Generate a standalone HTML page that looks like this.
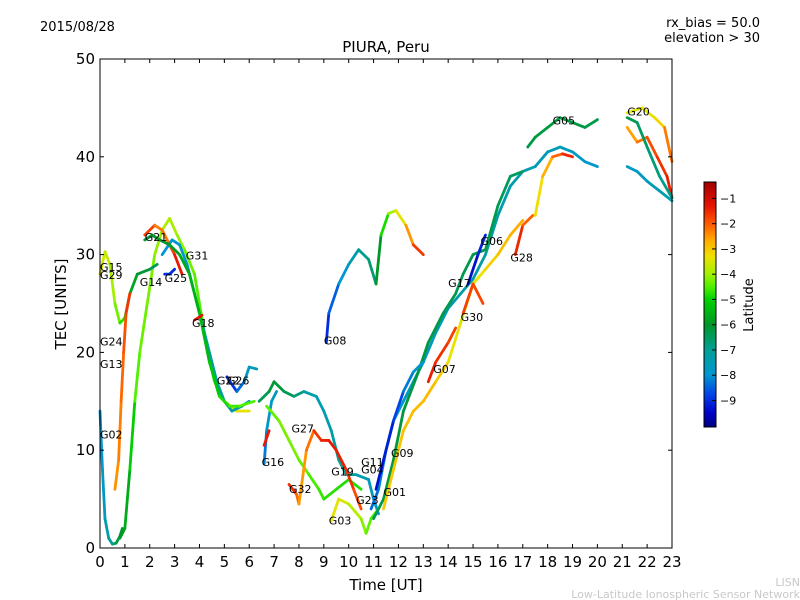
<!DOCTYPE html>
<html><head><meta charset="utf-8"><style>
body{margin:0;background:#fff;}
svg{display:block;font-family:"DejaVu Sans","Liberation Sans",sans-serif;}
</style></head><body>
<svg id="chart" width="800" height="600" viewBox="0 0 800 600">
<rect x="0" y="0" width="800" height="600" fill="#fff"/>
<text x="40" y="31" font-size="13">2015/08/28</text>
<text x="760" y="27" font-size="13" text-anchor="end">rx_bias = 50.0</text>
<text x="760" y="42" font-size="13" text-anchor="end">elevation &gt; 30</text>
<text x="386" y="52" font-size="15" text-anchor="middle">PIURA, Peru</text>
<text x="386" y="590" font-size="15" text-anchor="middle">Time [UT]</text>
<text x="66" y="304" font-size="15" text-anchor="middle" transform="rotate(-90 66 304)">TEC [UNITS]</text>
<text x="800" y="586" font-size="11" fill="#c8c8c8" text-anchor="end">LISN</text>
<text x="800" y="598" font-size="11" fill="#c8c8c8" text-anchor="end">Low-Latitude Ionospheric Sensor Network</text>
<g id="plot"></g>
<g id="axes"></g>
<g id="cbar"></g>
</svg>
<script>
const xTicks=[0,1,2,3,4,5,6,7,8,9,10,11,12,13,14,15,16,17,18,19,20,21,22,23];
const yTicks=[0,10,20,30,40,50];
const cbTicks=[-1,-2,-3,-4,-5,-6,-7,-8,-9];
const trackTimes=[
[0.8,1,1.2,1.4,1.6,1.9,2.2,2.5,2.8,3.1,3.4,3.8,4.2,4.6,5,5.5,6],
[0,0.1,0.2,0.35,0.5,0.65,0.8,0.9],
[0,0.2,0.4,0.6,0.8,1,1.2,1.5,2,2.3],
[0.6,0.75,0.85,0.95,1.05,1.2],
[1.8,2.2,2.5,2.8,3,3.3],
[2.5,2.9,3.2,3.5,3.9,4.3,4.7,5,5.3,5.7,6],
[1.8,2.1,2.4,2.8,3.2,3.6,4,4.4,4.8,5.2,5.6,6.2],
[2.6,2.8,3],
[3.8,4.1],
[5.1,5.5,5.8,6,6.3],
[6.4,6.8,7,7.4,7.8,8.2,8.7,9,9.3,9.6,9.9,10.3,10.8,11,11.2],
[6.6,6.7,6.9,7.1],
[6.6,6.8],
[6.7,7.2,7.6,8,8.4,8.8,9,9.5,10,10.5],
[7.6,7.9,8,8.3,8.6,8.9,9.2,9.5,9.9,10.2,10.5],
[9.1,9.2,9.6,10,10.4,10.8,11.1,11.3,11.6,11.9,12.3,12.6,13],
[9.3,9.6,10,10.5,10.7,10.9,11.2],
[10.9,11.2,11.5,11.8,12.2,12.6,13,13.5,14,14.5,15,15.5,16,16.5,17,17.5,18,18.5,19,19.5,20],
[11,11.4,11.8,12.2,12.8,13.2,13.8,14.3,14.6,15,15.5,16,16.5,17],
[11.4,11.8,12.2,12.6,13,13.5,14,14.5,15,15.5,16,16.5,17],
[13.2,13.5,14,14.3],
[14.6,15,15.4],
[14.8,15.2,15.5],
[16.7,17,17.4],
[17.5,17.8,18.2,18.6,19],
[17.2,17.5,18,18.5,19,19.5,20],
[21.2,21.6,22,22.4,22.8,23],
[21.2,21.8,22.3,22.7,23],
[21.2,21.6,22,22.5,23],
[21.2,21.6,22,22.5,23],
[11.1,11.4,11.8,12.2,12.6,13]
];
const trackTec=[
[1,2,8,15,20,25,30,32.5,33.7,32,30.5,28,22,17,15,14,14],
[14,8,3,1,0.4,0.5,1.2,2],
[28,30.3,29,25,23,23.5,26,28,28.5,29],
[6,9,15,20,24,26],
[32,33,32.5,31,30,28],
[30,31.5,31,29,25,21,17,15,14,14.5,15],
[31.5,32,31.5,31,30,28,24,19,15.5,14.5,14.5,15],
[28,28,28.5],
[23.3,23.8],
[17.5,16,17,18.5,18.3],
[15,16,17,16,15.5,16,15.5,14,12,9,7.5,7.5,7,5,3.5],
[8.6,12,15,16],
[10.5,12],
[14.5,13,11,9,7.5,6,5,6,7,6],
[6.5,5.5,4.5,10,12,11,11,10,8,6,4],
[21,24,27,29,30.5,29.5,27,32,34.2,34.5,33,31,30],
[2.8,5,4.5,3,1.5,3,4],
[4,6,10,13,15,17,19,22,24.5,26,27.5,30,34,37,38.5,39,40.5,41,40.5,39.5,39],
[3,5,9,14,18,21,24,26,28,30,30.5,35,38,38.5],
[4,8,12,14,15,17,19,23,27,28.5,30,32,33.5],
[17,19,21,22.5],
[24,27,25],
[27,30,32],
[30,33,34],
[34,38,40,40.3,40],
[41,42,43,44,43.5,43,43.8],
[43,41.5,42,40,38,35.8],
[44.5,45,44,43,39.5],
[44,43.5,41,38,35.8],
[39,38.5,37.5,36.5,35.5],
[6,9,13,16,18,19]
];
const trackLat=[
[-5.8,-5.8,-5.5,-4.6,-4.4,-4.3,-4.2,-4,-3.8,-4,-4.2,-4.4,-4.6,-4.3,-3.6,-3.4,-3.3],
[-8,-8,-7.5,-7.2,-7,-6.5,-6,-6],
[-3.5,-3.6,-3.8,-4.1,-4.5,-5,-5.5,-6,-6.3,-6.5],
[-2.5,-2.4,-2.2,-2,-1.8,-1.5],
[-1.5,-2,-2.5,-2,-1.5,-1.2],
[-8,-8,-8,-7.7,-7.5,-7.2,-7,-7,-7.2,-7.5,-7.8],
[-6.2,-6.1,-6,-6,-5.8,-5.6,-5.5,-5.3,-5,-4.7,-4.5,-4.5],
[-9,-9,-9],
[-1.3,-1.3],
[-9,-8.8,-8,-7.5,-7.5],
[-6.5,-6.3,-6,-6.3,-6.5,-7,-7.5,-7.5,-7.3,-7,-7,-7.3,-7.5,-7.8,-8],
[-8.5,-8,-7.8,-7.5],
[-1.5,-1.2],
[-4.5,-4.3,-4.2,-4.3,-4.5,-4.6,-4.7,-4.8,-4.8,-4.8],
[-1.3,-1.8,-2.4,-2.6,-1.8,-1.5,-1.4,-1.3,-1.5,-1.7,-2],
[-9.2,-8.8,-8.2,-7.8,-7,-6.8,-6.5,-5.5,-4.2,-3.8,-3,-2,-1.3],
[-3.4,-3.4,-3.6,-4,-4.3,-4.5,-4.6],
[-8.5,-8.3,-8,-7.9,-7.8,-7.7,-7.6,-7.6,-7.5,-7.3,-7.2,-7.2,-7.3,-7.4,-7.4,-7.5,-7.5,-7.6,-7.7,-7.8,-8],
[-6.5,-6.3,-6.2,-6.2,-6.2,-6.2,-6.3,-6.4,-6.4,-6.3,-6.3,-6.4,-6.5,-6.5],
[-3,-3,-2.9,-2.9,-2.8,-2.9,-3.2,-3.5,-3.5,-3.2,-3,-2.8,-2.6],
[-1.3,-1.5,-1.7,-1.8],
[-1.5,-2,-1.6],
[-9.5,-9.2,-9],
[-1.2,-1.8,-2.3],
[-3.5,-3,-2.4,-1.8,-1.2],
[-6.3,-6.3,-6.2,-6.2,-6.2,-6.3,-6.3],
[-2.8,-2.4,-2,-1.7,-1.5,-1.3],
[-3.4,-3.5,-3.3,-3,-1.5],
[-6.2,-6.4,-6.6,-6.8,-7],
[-7.8,-7.8,-7.6,-7.4,-7.3],
[-9.3,-9.3,-9,-8.5,-8,-7.8]
];
const labelNames=["G15","G29","G24","G13","G02","G14","G21","G25","G31","G18","G22","G26","G16","G27","G32","G08","G19","G11","G04","G23","G03","G01","G09","G07","G17","G30","G06","G28","G05","G20"];
const labelTimes=[0,0,0,0,0,1.6,1.8,2.6,3.45,3.7,4.7,5.1,6.5,7.7,7.6,9.0,9.3,10.5,10.5,10.3,9.2,11.4,11.7,13.4,14.0,14.5,15.3,16.5,18.2,21.2];
const labelTec=[28.3,27.5,20.7,18.4,11.2,26.8,31.4,27.2,29.5,22.6,16.7,16.7,8.4,11.8,5.6,20.8,7.4,8.4,7.6,4.5,2.4,5.3,9.3,17.9,26.7,23.2,31.0,29.3,43.3,44.2];

const X0=100,X1=672,Y0=548,Y1=59;
const xs=t=>X0+(t-0)/(23-0)*(X1-X0);
const ys=v=>Y0-(v-0)/(50-0)*(Y0-Y1);
const CMIN=-10.05,CMAX=-0.35;
const cbTop=182,cbBot=427;
const cs=l=>cbBot-(l-CMIN)/(CMAX-CMIN)*(cbBot-cbTop);
const cStops=[[-10.05,[0,0,128]],[-9.5,[0,0,200]],[-8.8,[0,64,230]],[-8,[0,150,210]],[-7,[0,160,150]],[-6,[0,150,40]],[-5,[0,210,0]],[-4.5,[80,240,0]],[-4,[160,240,0]],[-3.3,[240,225,0]],[-2.7,[255,175,0]],[-2,[255,90,0]],[-1.3,[230,20,0]],[-0.35,[160,0,0]]];
function latColor(l){
 if(l<=cStops[0][0])return `rgb(${cStops[0][1].join(',')})`;
 for(let i=0;i<cStops.length-1;i++){const a=cStops[i],b=cStops[i+1];
  if(l<=b[0]){const f=(l-a[0])/(b[0]-a[0]);const c=a[1].map((v,k)=>Math.round(v+(b[1][k]-v)*f));return `rgb(${c.join(',')})`;}}
 return `rgb(${cStops[cStops.length-1][1].join(',')})`;}
const NS="http://www.w3.org/2000/svg";
function mk(tag,attrs,parent){const e=document.createElementNS(NS,tag);for(const k in attrs)e.setAttribute(k,attrs[k]);parent.appendChild(e);return e;}
const plot=document.getElementById('plot');
const axes=document.getElementById('axes');
const cbar=document.getElementById('cbar');
for(let i=0;i<trackTimes.length;i++){
 const g=mk('g',{},plot);
 
 
 const T=trackTimes[i],V=trackTec[i],L=trackLat[i];
 for(let j=0;j<T.length-1;j++){
  const seg=mk('line',{x1:xs(T[j]),y1:ys(V[j]),x2:xs(T[j+1]),y2:ys(V[j+1]),stroke:latColor((L[j]+L[j+1])/2),'stroke-width':2.8,'stroke-linecap':'round'},g);
  
  
 }
}
for(let i=0;i<labelNames.length;i++){
 const t=mk('text',{x:xs(labelTimes[i]),y:ys(labelTec[i]),'font-size':11},plot);
 t.textContent=labelNames[i];
 
 
}
const fr=mk('rect',{x:X0,y:Y1,width:X1-X0,height:Y0-Y1,fill:'none',stroke:'#000','stroke-width':1},axes);


xTicks.forEach(t=>{
 const x=xs(t);
 const a=mk('line',{x1:x,y1:Y0,x2:x,y2:Y0-4,stroke:'#000'},axes);
 
 
 const b=mk('line',{x1:x,y1:Y1,x2:x,y2:Y1+4,stroke:'#000'},axes);
 
 
 const tx=mk('text',{x:x,y:Y0+19,'font-size':15,'text-anchor':'middle'},axes);
 tx.textContent=t;
 
 
});
yTicks.forEach(v=>{
 const y=ys(v);
 const a=mk('line',{x1:X0,y1:y,x2:X0+4,y2:y,stroke:'#000'},axes);
 
 
 const b=mk('line',{x1:X1,y1:y,x2:X1-4,y2:y,stroke:'#000'},axes);
 
 
 const tx=mk('text',{x:X0-5,y:y+5,'font-size':15,'text-anchor':'end'},axes);
 tx.textContent=v;
 
 
});
const defs=mk('defs',{},cbar);
const grad=mk('linearGradient',{id:'latg',x1:0,y1:1,x2:0,y2:0},defs);
cStops.forEach(s=>{mk('stop',{offset:(s[0]-CMIN)/(CMAX-CMIN),'stop-color':`rgb(${s[1].join(',')})`},grad);});
const cr=mk('rect',{x:704,y:cbTop,width:12,height:cbBot-cbTop,fill:'url(#latg)',stroke:'#000','stroke-width':1},cbar);


cbTicks.forEach(l=>{
 const y=cs(l);
 const a=mk('line',{x1:712,y1:y,x2:716,y2:y,stroke:'#000'},cbar);
 
 
 const tx=mk('text',{x:720,y:y+4,'font-size':11},cbar);
 tx.textContent=String(l).replace('-','\u2212');
 
 
});
const lt=mk('text',{x:753,y:305,'font-size':13,'text-anchor':'middle',transform:'rotate(-90 753 305)'},cbar);
lt.textContent='Latitude';


</script>
</body></html>
